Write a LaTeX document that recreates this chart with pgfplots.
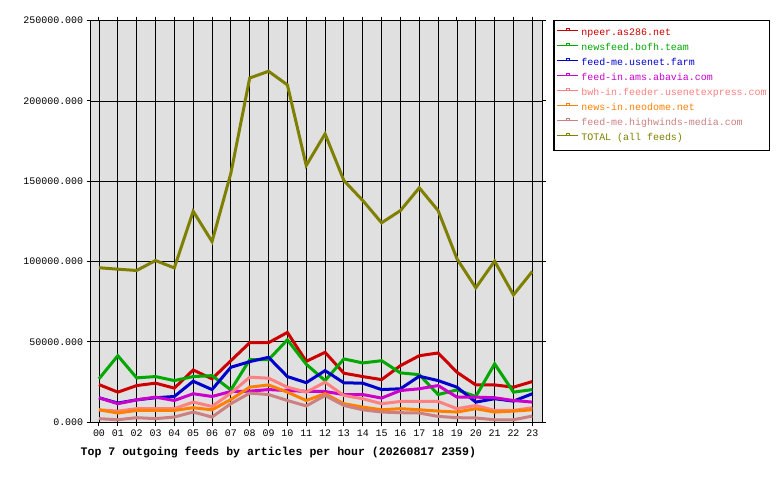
\documentclass[border=0pt]{standalone}
\usepackage{fontspec}
\setmainfont{Liberation Mono}
\usepackage{pgfplots}
\usepackage{pgfplotstable}
\pgfplotsset{compat=1.18}

\definecolor{cnpeer}{RGB}{204,0,0}
\definecolor{cbofh}{RGB}{0,168,0}
\definecolor{cfarm}{RGB}{0,0,204}
\definecolor{cabavia}{RGB}{204,0,204}
\definecolor{cbwh}{RGB}{255,128,128}
\definecolor{cneodome}{RGB}{255,128,0}
\definecolor{chighwinds}{RGB}{204,128,128}
\definecolor{ctotal}{RGB}{128,128,0}
\definecolor{plotbg}{RGB}{224,224,224}

% articles per hour
\pgfplotstableread{
h  npeer bofh  farm  abavia bwh   neodome highwinds total
0  23300 26900 15100 15100  7600  7600    2100      96100
1  18600 41300 11800 11400  6800  5600    1400      95200
2  22700 27500 13800 13800  8300  7200    2700      94400
3  24200 28300 15100 15500  8300  7200    2100      100600
4  21100 25800 15900 13400  8300  7200    3100      96000
5  32400 28300 25400 17600  12400 8900    6200      131300
6  26900 28900 20200 15900  9700  7600    3100      112400
7  38200 20000 34100 19000  18000 14000   11400     155000
8  49400 38800 37600 19200  27900 21700   18000     214300
9  49400 38800 40300 20200  27300 23100   17100     218500
10 55800 51200 28300 19600  21700 18600   13400     210000
11 37800 36000 24500 19100  18600 13400   10000     159800
12 43400 25800 32000 19000  24800 17600   16500     179500
13 30400 39300 24400 17100  16500 11400   10300     150400
14 28300 36800 24200 17100  14500 9300    7600      138000
15 26400 38200 20200 14900  11400 7600    6200      124100
16 35100 30600 20700 19600  12800 8300    5800      131700
17 41300 29500 28500 20700  12800 7600    5600      145900
18 43000 17100 25800 22700  12800 6800    3500      131700
19 31000 20000 21700 15500  8300  6200    2700      101700
20 23100 15900 12400 15500  10300 8300    2500      83600
21 23100 36200 14500 15100  7200  6200    1400      100200
22 21700 18600 13000 13400  7200  6800    1400      79200
23 25200 20200 17600 12400  8900  7600    3700      93800
}\feeds

\begin{document}
\begin{tikzpicture}
\fill[white] (0,0) rectangle (780bp,-480bp);
\path[use as bounding box] (0,0) rectangle (780bp,-480bp);
\begin{axis}[
    at={(90.7bp,-422bp)}, anchor=south west,
    scale only axis,
    width=451.6bp, height=401.3bp,
    xmin=-0.44, xmax=23.53,
    ymin=0, ymax=250000,
    axis background/.style={fill=plotbg},
    xtick={0,...,23},
    xticklabels={00,01,02,03,04,05,06,07,08,09,10,11,12,13,14,15,16,17,18,19,20,21,22,23},
    ytick={0,50000,...,250000},
    scaled y ticks=false,
    /pgf/number format/assume math mode=true,
    yticklabel style={/pgf/number format/.cd, fixed, fixed zerofill, precision=3, 1000 sep={}},
    ticklabel style={font=\fontsize{10}{12}\selectfont},
    grid=major,
    major grid style={black, line width=0.9bp},
    axis line style={black, line width=1bp},
    tick align=outside,
    major tick length=4bp,
    tick style={black, line width=1bp},
    every axis plot/.append style={line width=3bp},
    legend cell align=left,
    legend image code/.code={
        \draw[line width=1bp] (0bp,2.5bp) -- (21bp,2.5bp);
        \draw[line width=0.8bp, fill=white] (9bp,2.9bp) rectangle (12bp,5.1bp);
    },
    legend style={
        at={(1.0244,1.0017)}, anchor=north west,
        draw=black, line width=1.2bp, fill=white,
        font=\fontsize{10}{12}\selectfont,
        inner xsep=2.8bp, inner ysep=5bp,
        row sep=0pt,
        nodes={inner sep=0pt, text height=9.5bp, text depth=5.5bp},
        /tikz/every odd column/.append style={column sep=2.6bp},
    },
]
\addplot[cnpeer] table[x=h, y=npeer] {\feeds};
\addlegendentry{\textcolor{cnpeer}{npeer.as286.net}}
\addplot[cbofh] table[x=h, y=bofh] {\feeds};
\addlegendentry{\textcolor{cbofh}{newsfeed.bofh.team}}
\addplot[cfarm] table[x=h, y=farm] {\feeds};
\addlegendentry{\textcolor{cfarm}{feed-me.usenet.farm}}
\addplot[cabavia] table[x=h, y=abavia] {\feeds};
\addlegendentry{\textcolor{cabavia}{feed-in.ams.abavia.com}}
\addplot[cbwh] table[x=h, y=bwh] {\feeds};
\addlegendentry{\textcolor{cbwh}{bwh-in.feeder.usenetexpress.com}}
\addplot[cneodome] table[x=h, y=neodome] {\feeds};
\addlegendentry{\textcolor{cneodome}{news-in.neodome.net}}
\addplot[chighwinds] table[x=h, y=highwinds] {\feeds};
\addlegendentry{\textcolor{chighwinds}{feed-me.highwinds-media.com}}
\addplot[ctotal] table[x=h, y=total] {\feeds};
\addlegendentry{\textcolor{ctotal}{TOTAL (all feeds)}}
\end{axis}
\node[anchor=base west, font=\bfseries\fontsize{11.6}{13}\selectfont, inner sep=0pt]
    at (80.5bp,-455bp) {Top 7 outgoing feeds by articles per hour (20260817 2359)};
\end{tikzpicture}
\end{document}
